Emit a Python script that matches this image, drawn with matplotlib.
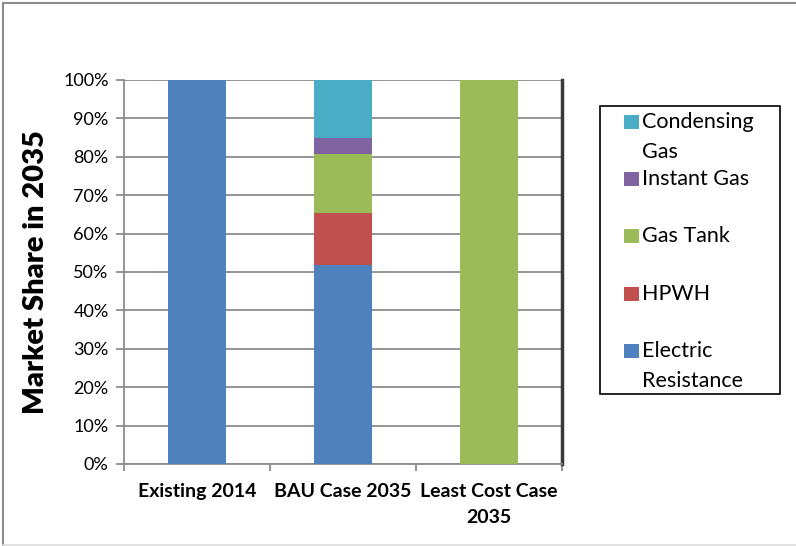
import numpy as np
import matplotlib.pyplot as plt
from matplotlib.patches import Rectangle
from matplotlib.lines import Line2D
from matplotlib.ticker import PercentFormatter

# Dane
categories = ["Existing 2014", "BAU Case 2035", "Least Cost Case\n2035"]
series = ["Electric Resistance", "HPWH", "Gas Tank", "Instant Gas", "Condensing Gas"]
legend_labels = ["Electric\nResistance", "HPWH", "Gas Tank", "Instant Gas", "Condensing\nGas"]
electric = [100.0, 51.8, 0.0]
hpwh = [0.0, 13.5, 0.0]
gas_tank = [0.0, 15.4, 100.0]
instant_gas = [0.0, 4.2, 0.0]
condensing_gas = [0.0, 15.1, 0.0]
colors = ["#4F81BD", "#C0504D", "#9BBB59", "#8064A2", "#4BACC6"]

values = [electric, hpwh, gas_tank, instant_gas, condensing_gas]

fig = plt.figure(figsize=(7.96, 5.46), dpi=100)
ax = fig.add_axes([124 / 796, 1 - 464 / 546, 438 / 796, 384 / 546])

x = np.arange(len(categories))
bottom = np.zeros(len(categories))
for vals, col, name in zip(values, colors, series):
    ax.bar(x, vals, width=0.4, bottom=bottom, color=col, label=name, zorder=3)
    bottom += np.array(vals)

ax.set_xlim(-0.5, len(categories) - 0.5)
ax.set_ylim(0, 100)
ax.set_yticks(np.arange(0, 101, 10))
ax.yaxis.set_major_formatter(PercentFormatter(decimals=0))
ax.grid(axis="y", color="#8c8c8c", linewidth=1.3, zorder=0)

ax.set_xticks(x)
ax.set_xticklabels(categories, fontfamily="Lato", fontweight="bold", fontsize=14, linespacing=1.6)
ax.set_xticks(np.arange(-0.5, len(categories)), minor=True)
ax.tick_params(axis="x", which="major", length=0, pad=14)
ax.tick_params(axis="x", which="minor", length=5, color="#8c8c8c", width=1.3)
ax.tick_params(axis="y", length=6, color="#8c8c8c", width=1.3, labelsize=13, pad=5)
for lab in ax.get_yticklabels():
    lab.set_fontfamily("Lato")

ax.set_ylabel("Market Share in 2035", fontfamily="Lato", fontweight="heavy", fontsize=21, labelpad=10)

ax.spines["top"].set_visible(False)
ax.spines["left"].set_color("#8c8c8c")
ax.spines["left"].set_linewidth(1.3)
ax.spines["bottom"].set_color("#8c8c8c")
ax.spines["bottom"].set_linewidth(1.3)
ax.spines["right"].set_color("#3a3a3a")
ax.spines["right"].set_linewidth(2.5)

# Legenda (recznie, jak w Excelu)
W, H = 796, 546
fig.patches.append(Rectangle((600 / W, 1 - 394 / H), 180 / W, 288 / H, transform=fig.transFigure,
                             facecolor="white", edgecolor="black", linewidth=1.2))
legend_y = [122, 179, 236, 294, 351]
for yy, lab, col in zip(legend_y, legend_labels[::-1], colors[::-1]):
    fig.patches.append(Rectangle((624 / W, 1 - (yy + 7) / H), 15 / W, 14 / H,
                                 transform=fig.transFigure, facecolor=col, edgecolor="none"))
    fig.text(642 / W, 1 - (yy - 10) / H, lab, fontfamily="Lato", fontsize=15.5,
             va="top", ha="left", linespacing=1.6)

# Ramka wykresu
fig.lines.append(Line2D([3 / W, 3 / W], [0, 1 - 3 / H], transform=fig.transFigure,
                        color="#8c8c8c", linewidth=1.5))
fig.lines.append(Line2D([3 / W, 1], [1 - 3 / H, 1 - 3 / H], transform=fig.transFigure,
                        color="#8c8c8c", linewidth=1.5))
fig.lines.append(Line2D([3 / W, 1], [1.2 / H, 1.2 / H], transform=fig.transFigure,
                        color="#dcdcdc", linewidth=1.2))

plt.savefig("out.png", dpi=100)
